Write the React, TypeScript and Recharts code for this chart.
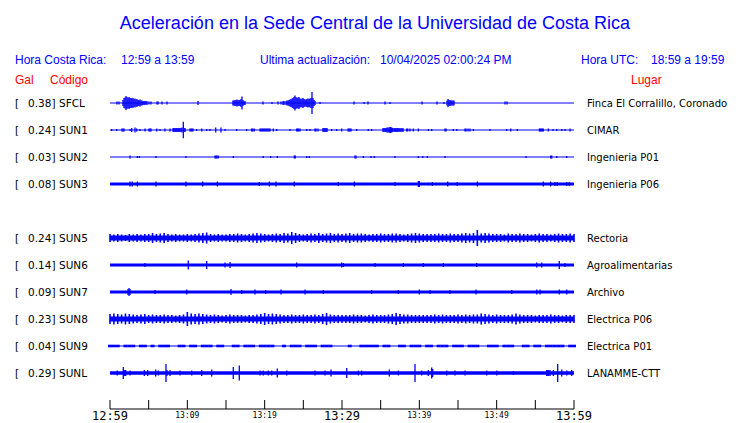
import React from 'react';
import { ComposedChart, XAxis, YAxis, Scatter, ErrorBar, ReferenceArea } from 'recharts';

const BLUE = '#0000ff';
const RED = '#ff0000';

// stations, top to bottom (row 4 = SUN4 is empty)
const codes = ['SFCL', 'SUN1', 'SUN2', 'SUN3', 'SUN5', 'SUN6', 'SUN7', 'SUN8', 'SUN9', 'SUNL'];
const peakGal = [0.38, 0.24, 0.03, 0.08, 0.24, 0.14, 0.09, 0.23, 0.04, 0.29];
const places = [
  'Finca El Corralillo, Coronado', 'CIMAR', 'Ingenieria P01', 'Ingenieria P06', 'Rectoria',
  'Agroalimentarias', 'Archivo', 'Electrica P06', 'Electrica P01', 'LANAMME-CTT',
];
const slots = [0, 1, 2, 3, 5, 6, 7, 8, 9, 10];
// background noise half-amplitude of each trace
const noise = [0.6, 0.6, 0.6, 1.5, 2.6, 1.6, 1.6, 2.6, 0.6, 1.8];

// time axis, minutes after 12:59
const tickMinutes = [0, 5, 10, 15, 20, 25, 30, 35, 40, 45, 50, 55, 60];
const tickLabels = ['12:59', '', '13:09', '', '13:19', '', '13:29', '', '13:39', '', '13:49', '', '13:59'];

// [minute, half amplitude] of the bursts on each trace
const sfclSpikes: [number, number][] = [
  [0.9, 1.5], [1.16, 1.5], [1.68, 3], [1.81, 5], [1.94, 5.5], [2.07, 7], [2.2, 6], [2.33, 5], [2.46, 6],
  [2.59, 5], [2.72, 5], [2.84, 4.5], [2.97, 5], [3.1, 4], [3.23, 4.5], [3.36, 3.5], [3.49, 4], [3.62, 3],
  [3.75, 3], [3.88, 3.5], [4.01, 2.5], [4.14, 2.5], [4.27, 2], [4.4, 2], [4.53, 2], [4.66, 1.5], [4.78, 2],
  [5.04, 1.5], [5.3, 1.5], [6.08, 1.5], [6.21, 1.5], [6.72, 1.5], [7.37, 1.5], [11.38, 2],
  [15.9, 2.5], [16.03, 2.5], [16.16, 3], [16.29, 3], [16.42, 3.5], [16.55, 3], [16.68, 3], [16.81, 3],
  [16.94, 4], [17.07, 6.5], [17.2, 3], [17.33, 2], [17.46, 2], [19.78, 1.5], [20.95, 1], [21.72, 1.5],
  [22.11, 1.5], [22.37, 2], [22.5, 2], [22.76, 2], [22.89, 2.5], [23.02, 2.5], [23.15, 3], [23.28, 3.5],
  [23.41, 4], [23.54, 4.5], [23.66, 5], [23.79, 6], [23.92, 7.5], [24.05, 6], [24.18, 5], [24.31, 5.5],
  [24.44, 6], [24.57, 4.5], [24.7, 4], [24.83, 4.5], [24.96, 5], [25.09, 4], [25.22, 3.5], [25.35, 3.5],
  [25.47, 4], [25.6, 4.5], [25.73, 4], [25.86, 4.5], [26.0, 5], [26.12, 11], [26.25, 5], [26.38, 3],
  [26.51, 2], [27.16, 1], [31.55, 1.5], [32.85, 1], [33.36, 1.5], [35.56, 1.5], [36.21, 1], [40.35, 1.5],
  [42.29, 1.5], [43.19, 1], [43.58, 2.5], [43.71, 4], [43.84, 3], [43.97, 3], [44.1, 2.5], [44.23, 2.5],
  [44.36, 2.5], [44.48, 2.5], [51.08, 1.5], [51.34, 1.5],
];

const sun1Spikes: [number, number][] = [
  [0.22, 1], [0.87, 1], [1.55, 1.5], [1.68, 1.5], [1.81, 1.5], [2.59, 1], [2.81, 2], [3.23, 2.5], [3.45, 1.5],
  [3.88, 1], [4.53, 1.5], [5.04, 1.5], [5.17, 1.5], [5.3, 1.5], [6.04, 1.5], [6.47, 1], [7.11, 1.5], [7.76, 1.5],
  [8.15, 2], [8.28, 2], [8.41, 2], [8.54, 2], [8.66, 2], [8.79, 2], [8.92, 2], [9.05, 2], [9.18, 2], [9.31, 2.5],
  [9.48, 8.3], [9.57, 2], [9.7, 2], [10.35, 1.5], [10.48, 1.5], [10.6, 1.5], [10.73, 1.5], [11.21, 1],
  [11.86, 1.5], [12.5, 1], [12.93, 1], [13.67, 2.5], [14.35, 2.5], [14.87, 1], [16.38, 1], [17.68, 1],
  [18.32, 1.5], [18.45, 1.5], [18.66, 1.5], [19.4, 1.5], [19.53, 1.5], [19.66, 1.5], [19.78, 1.5], [19.91, 1.5],
  [20.04, 1.5], [20.17, 1.5], [20.3, 1.5], [20.43, 1.5], [20.56, 1.5], [20.69, 1.5], [21.12, 1.5], [21.56, 1],
  [23.28, 1], [24.14, 1.5], [24.27, 1.5], [24.4, 1.5], [24.57, 1.5], [25.44, 1], [25.86, 1], [26.51, 1.5],
  [26.64, 1.5], [26.9, 1.5], [27.54, 2], [27.67, 2], [27.8, 2], [27.93, 2], [28.06, 2], [28.67, 1], [29.31, 1],
  [29.96, 1.5], [30.78, 1.5], [30.91, 1.5], [31.03, 1.5], [31.16, 1.5], [31.9, 1], [33.4, 1], [33.84, 1],
  [35.3, 2], [35.43, 2], [35.56, 2], [35.69, 2], [35.82, 2.5], [35.95, 2.5], [36.08, 2.5], [36.2, 3], [36.3, 3],
  [36.43, 2.5], [36.56, 2], [36.73, 2], [36.86, 2], [36.98, 2], [37.11, 2], [37.24, 2], [37.37, 2], [37.5, 1.5],
  [37.63, 2], [37.76, 1.5], [37.89, 2], [38.37, 1.5], [38.5, 1.5], [38.79, 1.5], [39.22, 1.5], [39.87, 1.5],
  [41.16, 1], [41.6, 1], [43.32, 1.5], [43.45, 1.5], [44.39, 1], [44.84, 1], [45.91, 1.5], [46.04, 1.5],
  [46.3, 1.5], [46.55, 1.5], [46.98, 1], [49.14, 1], [51.3, 1], [51.82, 1.5], [52.67, 1], [55.52, 1.5],
  [55.65, 1.5], [55.77, 1.5], [55.9, 1.5], [56.03, 1.5], [56.68, 1.5], [57.29, 1], [57.77, 1], [58.41, 1],
  [58.84, 1], [59.48, 1.5],
];

const sun2Spikes: [number, number][] = [
  [2.59, 1.5], [3.53, 1], [3.79, 1], [5.95, 1], [9.83, 1], [13.58, 1.5], [13.71, 1.5], [13.84, 1.5], [14.0, 1.5],
  [15.94, 1], [19.82, 1], [20.78, 1], [21.63, 1], [23.83, 1.5], [23.96, 1.5], [25.44, 1], [25.77, 1],
  [31.68, 1.5], [31.81, 1.5], [32.76, 1], [33.75, 1], [34.18, 1], [36.85, 1], [39.87, 1], [40.44, 1],
  [41.03, 1], [43.32, 1], [53.8, 1], [56.99, 1.5], [57.12, 1.5], [57.77, 1], [59.06, 1],
];

const sun3Spikes: [number, number][] = [
  [2.59, 2.5], [2.88, 2.5], [3.53, 2.5], [5.95, 2.5], [9.83, 2.5], [11.99, 2.5], [13.88, 2.5], [19.31, 2],
  [20.6, 2.5], [21.47, 2.5], [23.83, 2.5], [29.52, 2], [31.59, 2.5], [36.85, 2], [39.87, 3], [40.0, 3],
  [41.68, 2], [43.67, 2.5], [44.91, 2], [47.5, 2.5], [56.03, 2.5], [56.99, 2.5], [57.54, 2], [57.84, 2],
  [59.06, 2], [59.39, 2],
];

// half-minute envelopes of the noisy traces
const sun5Amp = [
  4, 3.5, 4, 3.5, 3, 4, 3.5, 4, 3.5, 4,
  4, 5, 4, 4.5, 5, 4, 3.5, 4, 3.5, 3.5,
  4, 3.5, 4, 4.5, 5, 5.5, 4, 3.5, 4, 3.5,
  3.5, 4, 4, 4.5, 4, 3.5, 4, 4.5, 5, 4.5,
  4, 3.5, 4, 4.5, 4, 5, 4.5, 6, 5, 4,
  3.5, 4, 4.5, 4, 5, 4, 4.5, 5, 4, 4.5,
  4, 4.5, 5, 4, 4.5, 4.5, 4, 3.5, 4, 4,
  4.5, 4, 4, 4.5, 4.5, 4, 3.5, 4, 4.5, 5,
  4.5, 4, 4, 4, 4, 4.5, 4, 4, 4.5, 4,
  4, 4.5, 5, 4.5, 5, 8, 4.5, 5, 4.5, 4,
  4, 4, 3.5, 4.5, 4, 4, 4.5, 4, 4, 3.5,
  4, 4.5, 4, 4, 3.5, 4, 4.5, 4, 4, 4.5, 4,
];

const sun8Amp = [
  5, 5.5, 5, 4.5, 5.5, 5,
  4.5, 4, 4.5, 5, 4, 4.5, 4,
  4, 4.5, 4, 4, 3.5, 4, 4.5,
  7,
  5.5, 5, 5.5, 5, 4.5,
  4, 4.5, 4, 3.5,
  4, 4.5, 4, 4, 4, 3.5, 4, 4, 4.5, 5,
  6, 5, 5.5, 5, 4.5, 4,
  4, 4.5, 4, 4,
  4.5, 4, 4, 4.5, 4, 5,
  6, 4.5, 4, 4,
  4, 4, 4, 4.5, 4, 4, 3.5, 4, 4.5, 4,
  4, 4, 4.5, 5, 6, 5, 4.5, 4.5, 4, 4,
  4, 4, 4, 4, 4.5, 4, 4.5, 4, 4, 4,
  4.5, 4, 4.5, 4, 4.5, 4.5, 5.5, 5, 4.5, 4,
  4.5, 4, 4, 4, 4.5, 5.5, 4.5, 4, 4, 4,
  3.5, 4, 4, 4, 4.5, 4, 4, 3.5, 4, 4, 4,
];

const sun9Amp = [
  1.3, 1.3, 1.3, 0, 1.3, 1.3, 1.3, 0, 1.3, 1.3,
  0, 1.3, 0, 1.3, 1.3, 1.3, 0, 0, 1.3, 1.3,
  0, 1.3, 1.3, 0, 1.3, 1.3, 1.3, 0, 1.3, 1.3,
  0, 0, 1.3, 1.3, 0, 1.3, 1.3, 1.3, 0, 1.3,
  1.3, 1.3, 1.3, 0, 0, 1.3, 0, 1.3, 1.3, 1.3,
  0, 1.3, 1.3, 1.3, 0, 1.3, 1.3, 1.3, 0, 0,
  0, 0, 1.3, 0, 0, 1.3, 1.3, 1.3, 1.3, 1.3,
  0, 1.3, 1.3, 0, 0, 1.3, 1.3, 0, 1.3, 1.3,
  1.3, 0, 1.3, 1.3, 0, 1.3, 1.3, 1.3, 0, 1.3,
  1.3, 1.3, 0, 1.3, 1.3, 1.3, 0, 0, 1.3, 1.3,
  1.3, 0, 1.3, 1.3, 1.3, 0, 0, 1.3, 1.3, 0,
  1.3, 1.3, 0, 1.3, 1.3, 1.3, 1.3, 1.3, 0, 1.3, 1.3,
];

const sun6Spikes: [number, number][] = [
  [4.53, 2], [10.12, 4.5], [12.5, 4], [14.87, 2.5], [15.52, 3], [24.14, 2.5], [29.96, 2.5], [30.17, 2],
  [34.27, 2], [37.93, 2], [40.51, 2], [43.1, 2], [47.42, 2], [55.18, 2.5], [55.83, 2.5], [58.1, 4], [58.84, 2],
];

const sun7Spikes: [number, number][] = [
  [2.33, 3], [2.46, 4], [2.59, 3], [5.82, 2], [9.92, 2.5], [15.65, 3], [17.03, 2], [18.75, 2.5], [20.13, 2],
  [22.11, 2.5], [25.22, 2.5], [27.58, 2], [33.84, 2], [37.28, 2], [40.0, 2.5], [41.38, 2], [43.97, 2],
  [47.33, 2.5], [51.95, 2], [55.18, 2.5], [55.61, 2.5], [58.1, 2.5], [59.06, 2.5],
];

const sunlSpikes: [number, number][] = [
  [0.94, 2.5], [1.72, 6], [1.85, 3], [2.03, 3], [2.59, 2.5], [4.44, 3], [4.88, 3], [5.91, 3.5], [6.25, 2.5],
  [7.24, 9], [7.37, 3], [7.76, 3], [9.05, 2.5], [10.57, 2.5], [11.86, 3], [13.15, 3.5], [15.94, 6], [16.72, 7.5],
  [19.4, 2.5], [19.82, 2.5], [20.47, 2.5], [20.91, 2.5], [21.63, 4.5], [22.85, 2.5], [26.51, 2.5], [27.8, 2.5],
  [28.58, 3.5], [30.61, 5], [32.11, 2.5], [32.55, 2.5], [36.12, 3.5], [37.28, 2.5], [39.44, 9], [40.31, 2.5],
  [41.16, 3], [41.6, 5.5], [41.73, 4], [43.54, 2.5], [44.61, 2.5], [45.91, 2.5], [48.71, 2.5], [50.01, 2.5],
  [52.15, 2], [56.47, 3], [56.6, 3], [56.73, 3], [56.9, 3], [57.33, 3], [57.89, 9], [58.41, 3.5], [59.06, 2.5],
  [59.7, 3],
];

const ROW = 27; // trace spacing in amplitude units
const STEP = 0.5; // minutes between envelope samples

const fromGrid = (amps: number[]): [number, number][] =>
  amps.map((a, k) => [k * STEP, a] as [number, number]).filter(([, a]) => a > 0);

const traces = [
  sfclSpikes, sun1Spikes, sun2Spikes, sun3Spikes, fromGrid(sun5Amp),
  sun6Spikes, sun7Spikes, fromGrid(sun8Amp), fromGrid(sun9Amp), sunlSpikes,
];
const strokeW = [1.3, 1.3, 1.3, 1.3, 1.6, 1.3, 1.3, 1.6, 4, 1.3];
const rowOffsets = slots.map(s => s * ROW);

const TimeTick = (props: any) => {
  const { x, y, payload, index } = props;
  const label = tickLabels[index] ?? '';
  const big = payload.value % 30 === 0;
  return (
    <g>
      <line x1={x} x2={x} y1={y - 9} y2={y} stroke="#000" strokeWidth={1} />
      {label && (
        <text x={x} y={big ? y + 11 : y + 9} textAnchor="middle" fontFamily="DejaVu Sans Mono"
          fontSize={big ? 12 : 8} fill="#000">{label}</text>
      )}
    </g>
  );
};

const LeftTick = (props: any) => {
  const { y, payload } = props;
  const i = rowOffsets.indexOf(payload.value);
  if (i < 0) return null;
  return (
    <g fontFamily="DejaVu Sans" fontSize={10.5} fill="#000">
      <text x={15} y={y + 4}>[</text>
      <text x={28} y={y + 4}>{peakGal[i].toFixed(2)}]</text>
      <text x={59} y={y + 4}>{codes[i]}</text>
    </g>
  );
};

const RightTick = (props: any) => {
  const { x, y, payload } = props;
  const i = rowOffsets.indexOf(payload.value);
  if (i < 0) return null;
  return (
    <text x={x + 13} y={y + 4} fontFamily="DejaVu Sans" fontSize={10} fill="#000">{places[i]}</text>
  );
};

export default function App() {
  return (
    <div style={{ position: 'absolute', left: 0, top: 0, width: 740, height: 423, background: '#fff' }}>
      <ComposedChart width={740} height={423} margin={{ top: 85, right: 0, bottom: 0, left: 0 }}>
        <XAxis type="number" dataKey="t" domain={[0, 60]} ticks={tickMinutes} interval={0}
          allowDataOverflow tick={<TimeTick />} tickLine={false} tickSize={0} tickMargin={0}
          axisLine={{ stroke: '#000' }} height={14} />
        <YAxis yAxisId="l" type="number" dataKey="y" domain={[-18, 306]} reversed allowDataOverflow
          ticks={rowOffsets} interval={0} tick={<LeftTick />} tickLine={false} axisLine={false}
          tickSize={0} tickMargin={0} width={110} />
        <YAxis yAxisId="r" orientation="right" type="number" domain={[-18, 306]} reversed allowDataOverflow
          ticks={rowOffsets} interval={0} tick={<RightTick />} tickLine={false} axisLine={false}
          tickSize={0} tickMargin={0} width={166} />
        {traces.map((_, i) => (
          <ReferenceArea key={'n' + i} yAxisId="l" x1={0} x2={60}
            y1={rowOffsets[i] - noise[i]} y2={rowOffsets[i] + noise[i]}
            fill={BLUE} fillOpacity={1} stroke="none" ifOverflow="visible" />
        ))}
        {traces.map((tr, i) => (
          <Scatter key={'s' + i} yAxisId="l" isAnimationActive={false} shape={() => <g />}
            data={tr.map(([t, a]) => ({ t, y: rowOffsets[i], e: a }))}>
            <ErrorBar dataKey="e" direction="y" width={0} stroke={BLUE} strokeWidth={strokeW[i]}
              isAnimationActive={false} />
          </Scatter>
        ))}
      </ComposedChart>
      <svg width={740} height={423} style={{ position: 'absolute', left: 0, top: 0, pointerEvents: 'none' }}
        fontFamily="Liberation Sans">
        <text x={375} y={29} textAnchor="middle" fontSize={18} fill={BLUE}>
          Aceleración en la Sede Central de la Universidad de Costa Rica
        </text>
        <g fontSize={12} fill={BLUE}>
          <text x={15} y={64}>Hora Costa Rica:</text>
          <text x={121} y={64}>12:59 a 13:59</text>
          <text x={260} y={64}>Ultima actualización:</text>
          <text x={380} y={64}>10/04/2025 02:00:24 PM</text>
          <text x={581} y={64}>Hora UTC:</text>
          <text x={651} y={64}>18:59 a 19:59</text>
        </g>
        <g fontSize={12} fill={RED}>
          <text x={15} y={84}>Gal</text>
          <text x={50} y={84}>Código</text>
          <text x={631} y={84}>Lugar</text>
        </g>
      </svg>
    </div>
  );
}
